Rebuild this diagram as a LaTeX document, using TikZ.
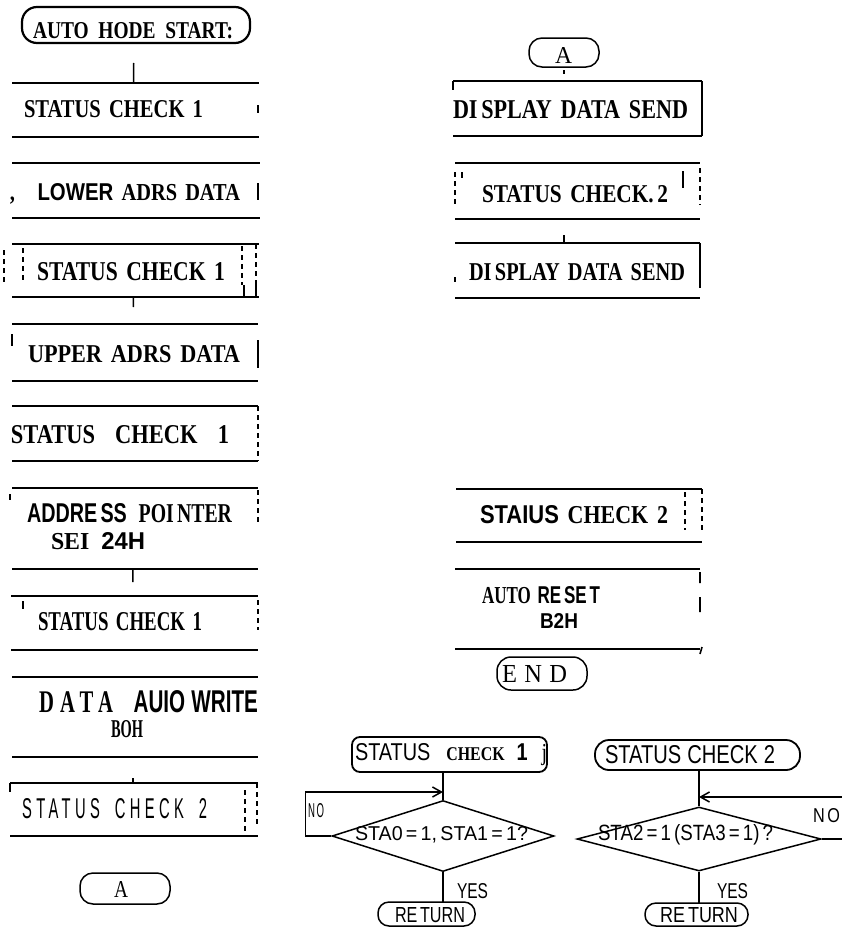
\documentclass[tikz,border=0pt]{standalone}
\usepackage{fontspec}
\setmainfont{Liberation Serif}
\newfontfamily\cnd{Liberation Sans}
\newfontfamily\cnds{Liberation Sans}[LetterSpace=30]
\usetikzlibrary{shapes.geometric,arrows.meta}
\tikzset{
  hline/.style={line width=2.4pt},
  tick/.style={line width=1.5pt},
  stub/.style={line width=1.6pt},
  frag/.style={line width=1.3pt,dash pattern=on 5pt off 4pt},
  flow/.style={line width=1.5pt},
  arr/.style={line width=1.5pt,-{Straight Barb[length=9pt,width=10pt]}},
  dia/.style={draw,diamond,line width=1.5pt,inner sep=0pt},
  lbl/.style={anchor=base west,inner sep=0pt,outer sep=0pt}
}
\newcommand\procbox[5]{%
  \node[inner sep=0pt,outer sep=0pt,minimum width={(#4-#2)*1pt},minimum height={(#5-#3)*1pt}] (#1) at ({(#2+#4)/2},{(#3+#5)/2}) {};
  \draw[hline] (#1.north west) -- (#1.north east) (#1.south west) -- (#1.south east);}
\newcommand\termbox[7]{%
  \node[draw,line width=#7pt,rounded corners=#6pt,inner sep=0pt,outer sep=0pt,minimum width={(#4-#2)*1pt},minimum height={(#5-#3)*1pt}] (#1) at ({(#2+#4)/2},{(#3+#5)/2}) {};}
\newcommand\tx[6]{\node[lbl] (#1) at (#2,#3) {\resizebox{#4pt}{#5pt}{\bfseries #6}};}
\newcommand\txl[6]{\node[lbl] (#1) at (#2,#3) {\resizebox{#4pt}{#5pt}{#6}};}
\begin{document}
\begin{tikzpicture}[x=1pt,y=-1pt]
\fill[white] (0,0) rectangle (842,929);
\useasboundingbox (0,0) rectangle (842,929);

% ---------- left column ----------
\termbox{start}{22}{7}{250}{43}{15}{2.2}
\tx{t0}{33}{38}{200}{16}{AUTO\hspace{.5em}HODE\hspace{.5em}START:}

\procbox{b1}{12}{83}{259}{137}
\tx{t1}{24}{117}{179}{17}{STATUS\hspace{.4em}CHECK\hspace{.4em}1}
\procbox{b2}{12}{163}{260}{218}
\tx{t2}{10}{200}{230}{17}{,\hspace{1.1em}{\cnd LOWER}\hspace{.4em}ADRS\hspace{.4em}DATA}
\procbox{b3}{12}{244}{259}{297}
\tx{t3}{37}{280}{188}{18}{STATUS\hspace{.4em}CHECK\hspace{.4em}1}
\procbox{b4}{12}{324}{258}{381}
\tx{t4}{28}{362}{212}{17}{UPPER\hspace{.4em}ADRS\hspace{.4em}DATA}
\procbox{b5}{12}{406}{258}{461}
\tx{t5}{11}{443}{218}{18}{STATUS\hspace{.9em}CHECK\hspace{.9em}1}
\procbox{b6}{12}{488}{258}{569}
\tx{t6}{27}{522}{205}{19}{{\cnd ADDRE\,SS}\hspace{.6em}POI\,NTER}
\tx{t6b}{51}{549}{94}{17}{SEI\hspace{.5em}{\cnd 24H}}
\procbox{b7}{11}{596}{258}{650}
\tx{t7}{38}{630}{164}{18}{STATUS\hspace{.4em}CHECK\hspace{.4em}1}
\procbox{b8}{12}{677}{258}{757}
\tx{t8}{39}{712}{219}{22}{{\addfontfeature{LetterSpace=30}DATA}\hspace{1em}{\cnd AUIO\hspace{.3em}WRITE}}
\tx{t8b}{111}{737}{32}{17}{BOH}
\procbox{b9}{10}{783}{258}{836}
\txl{t9}{22}{818}{185}{20}{{\cnds STATUS\hspace{1em}CHECK\hspace{1em}2}}
\termbox{A1}{80}{873}{170}{904}{13}{1.5}
\txl{tA}{114}{897}{14}{16}{A}

% connectors (left)
\draw[tick,shorten <=20pt] ([xshift=-2pt]start.south) -- ([xshift=-2pt]b1.north);
\draw[tick,shorten >=17pt] ([xshift=-2pt]b3.south) -- ([xshift=-2pt]b4.north);
\draw[tick,shorten >=14pt] ([xshift=-2pt]b6.south) -- ([xshift=-2pt]b7.north);
\draw[tick,shorten <=21pt] ([xshift=-2pt]b8.south) -- ([xshift=-1pt]b9.north);

% edge fragments (left)
\draw[stub] (258,105) -- (258,113);
\draw[stub] (258,183) -- (258,200);
\draw[frag] (4,250) -- (4,285) (23,248) -- (23,282) (242,246) -- (242,285) (256,244) -- (256,297);
\draw[stub] (244,285) -- (244,297) (256,285) -- (256,297);
\draw[stub] (12,334) -- (12,346) (258,340) -- (258,368);
\draw[frag] (258,406) -- (258,461);
\draw[stub] (10,494) -- (10,500);
\draw[frag] (258,490) -- (258,525);
\draw[stub] (23,601) -- (23,609);
\draw[frag] (258,600) -- (258,630);
\draw[stub] (10,783) -- (10,792);
\draw[frag] (245,790) -- (245,833) (257,783) -- (257,825);

% ---------- right column ----------
\termbox{A2}{529}{38}{599}{67}{13}{1.5}
\txl{tA2}{555}{63}{17}{16}{A}
\procbox{r1}{453}{81}{702}{136}
\tx{r1t}{453}{118}{235}{18}{DI\,SPLAY\hspace{.4em}DATA\hspace{.4em}SEND}
\procbox{r2}{455}{163}{700}{219}
\tx{r2t}{482}{202}{186}{17}{STATUS\hspace{.4em}CHECK.\,2}
\procbox{r3}{455}{243}{700}{298}
\tx{r3t}{469}{280}{216}{17}{DI\,SPLAY\hspace{.4em}DATA\hspace{.4em}SEND}
\procbox{r4}{456}{489}{702}{542}
\tx{r4t}{480}{523}{188}{18}{{\cnd STAIUS}\hspace{.4em}CHECK\hspace{.4em}2}
\procbox{r5}{455}{569}{700}{649}
\tx{r5t}{482}{603}{118}{17}{AUTO\hspace{.4em}{\cnd RE\,SE\,T}}
\tx{r5b}{540}{628}{38}{15}{{\cnd B2H}}
\termbox{fin}{497}{657}{587}{690}{14}{1.5}
\txl{te}{502}{682}{65}{17}{E\hspace{.3em}N\hspace{.3em}D}

% connectors (right)
\draw[tick,shorten <=3pt,shorten >=7pt] (A2.south) -- (A2.south |- r1.north);
\draw[tick,shorten <=16pt] (r2.south -| A2.south) -- (r3.north -| A2.south);

% edge fragments (right)
\draw[stub] (453,81) -- (453,90);
\draw[stub] (702,81) -- (702,136);
\draw[frag] (455,172) -- (455,205) (700,168) -- (700,205);
\draw[stub] (462,172) -- (462,178) (683,171) -- (683,188);
\draw[stub] (700,243) -- (700,288) (455,277) -- (455,282);
\draw[frag] (685,492) -- (685,530) (702,489) -- (702,530);
\draw[stub] (700,572) -- (700,583) (700,597) -- (700,612) (702,647) -- (700,654);

% ---------- subroutine STATUS CHECK 1 ----------
\termbox{S1}{352}{737}{547}{772}{8}{1.8}
\txl{s1t}{355}{760}{192}{17}{{\cnd STATUS}\hspace{.8em}{\footnotesize\bfseries CHECK}\hspace{.6em}{\cnd\bfseries 1}\hspace{.7em}j}
\node[dia,minimum width=222pt,minimum height=71pt] (D1) at (443,836) {};
\txl{d1t}{355}{840}{173}{14}{{\cnd STA0\,=\,1,\,STA1\,=\,1?}}
\termbox{R1}{378}{902}{475}{926}{11}{1.5}
\txl{ret1}{395}{922}{70}{15}{{\cnd RE\,TURN}}
\coordinate (j1) at (443,792);
\draw[flow] (S1.south -| D1.north) -- (D1.north);
\draw[flow] (D1.south) -- (D1.south |- R1.north);
\draw[arr] (D1.west) -- ++(-26,0) |- (j1);
\txl{no1}{308}{817}{16}{14}{{\cnd N\,O}}
\txl{yes1}{457}{898}{31}{15}{{\cnd YES}}

% ---------- subroutine STATUS CHECK 2 ----------
\termbox{S2}{595}{740}{800}{770}{14}{1.8}
\txl{s2t}{605}{763}{170}{18}{{\cnd STATUS\hspace{.3em}CHECK\hspace{.3em}2}}
\node[dia,minimum width=244pt,minimum height=64pt] (D2) at (699,839) {};
\txl{d2t}{598}{840}{175}{16}{{\cnd STA2\,=\,1\,(STA3\,=\,1)\,?}}
\termbox{R2}{645}{903}{748}{926}{11}{1.5}
\txl{ret2}{660}{922}{78}{15}{{\cnd RE\,TURN}}
\coordinate (j2) at (699,797);
\draw[flow] (S2.south -| D2.north) -- (D2.north);
\draw[flow] (D2.south) -- (D2.south |- R2.north);
\draw[arr] (D2.east) -- ++(24,0) |- (j2);
\txl{no2}{813}{822}{27}{14}{{\cnd N\,O}}
\txl{yes2}{717}{898}{31}{15}{{\cnd YES}}
\end{tikzpicture}
\end{document}
